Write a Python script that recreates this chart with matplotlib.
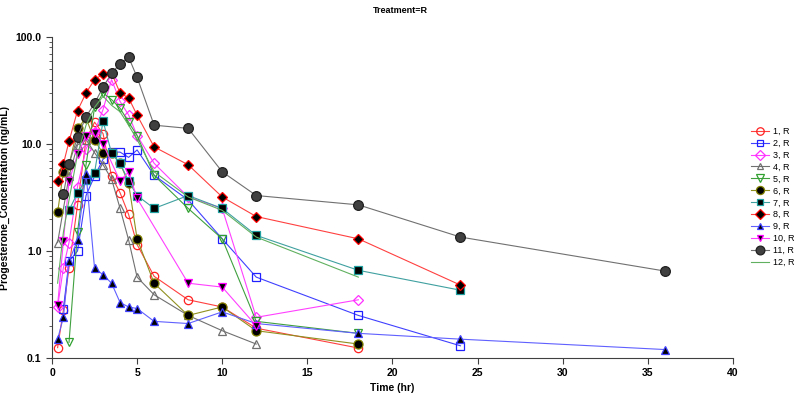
import matplotlib
matplotlib.use("Agg")
import matplotlib.pyplot as plt
from matplotlib.ticker import FixedLocator, FixedFormatter, LogLocator, NullFormatter

plt.rcParams['font.family'] = ['Liberation Sans', 'DejaVu Sans']

# concentration-time data per subject (time in hr, conc in ng/mL)
t1 = [0.33, 0.67, 1, 1.5, 2, 2.5, 3, 3.5, 4, 4.5, 5, 6, 8, 10, 12, 18]
c1 = [0.125, 0.28, 0.7, 2.7, 11, 16, 12.5, 5.0, 3.5, 2.2, 1.15, 0.58, 0.35, 0.3, 0.19, 0.124]

t2 = [0.67, 1, 1.5, 2, 2.5, 3, 3.5, 4, 4.5, 5, 6, 8, 10, 12, 18, 24]
c2 = [0.29, 0.8, 1.0, 3.3, 5.0, 7.2, 8.4, 8.4, 7.5, 8.8, 5.1, 3.0, 1.3, 0.57, 0.25, 0.13]

t3 = [0.33, 0.67, 1, 1.5, 2, 2.5, 3, 3.5, 4, 4.5, 5, 6, 8, 10, 12, 18]
c3 = [0.3, 0.7, 1.2, 4.0, 9.0, 13, 21, 40, 25, 18.7, 12, 6.6, 3.2, 2.5, 0.24, 0.35]

t4 = [0.33, 1, 1.5, 2, 2.5, 3, 3.5, 4, 4.5, 5, 6, 8, 10, 12]
c4 = [1.2, 5.0, 9.8, 11, 8.3, 6.4, 4.7, 2.5, 1.27, 0.57, 0.39, 0.25, 0.18, 0.135]

t5 = [1, 1.5, 2, 2.5, 3, 3.5, 4, 4.5, 5, 6, 8, 10, 12, 18]
c5 = [0.14, 1.5, 6.4, 22, 30, 26, 21.6, 16, 12, 5.1, 2.5, 1.3, 0.22, 0.17]

t6 = [0.33, 0.67, 1, 1.5, 2, 2.5, 3, 3.5, 4, 4.5, 5, 6, 8, 10, 12, 18]
c6 = [2.3, 5.5, 6.4, 14, 17.5, 10.8, 8.2, 8.2, 6.6, 4.3, 1.3, 0.5, 0.25, 0.3, 0.18, 0.135]

t7 = [1, 1.5, 2, 2.5, 3, 3.5, 4, 4.5, 5, 6, 8, 10, 12, 18, 24]
c7 = [2.4, 3.5, 4.6, 5.4, 16.4, 8.2, 6.6, 4.5, 3.3, 2.5, 3.3, 2.5, 1.4, 0.66, 0.43]

t8 = [0.33, 0.67, 1, 1.5, 2, 2.5, 3, 3.5, 4, 4.5, 5, 6, 8, 10, 12, 18, 24]
c8 = [4.5, 6.5, 10.6, 20.5, 30, 40, 45, 46, 30, 27, 18.6, 9.4, 6.4, 3.2, 2.1, 1.3, 0.48]

t9 = [0.33, 0.67, 1, 1.5, 2, 2.5, 3, 3.5, 4, 4.5, 5, 6, 8, 10, 12, 18, 24, 36]
c9 = [0.15, 0.24, 0.8, 1.27, 5.3, 0.69, 0.6, 0.5, 0.33, 0.3, 0.29, 0.22, 0.21, 0.27, 0.21, 0.17, 0.15, 0.12]

t10 = [0.33, 0.67, 1, 1.5, 2, 2.5, 3, 4, 4.5, 5, 8, 10, 12]
c10 = [0.31, 1.24, 4.5, 8.0, 12, 12.6, 10, 4.5, 5.5, 3.1, 0.5, 0.46, 0.2]

t11 = [0.67, 1, 1.5, 2, 2.5, 3, 3.5, 4, 4.5, 5, 6, 8, 10, 12, 18, 24, 36]
c11 = [3.4, 6.5, 11.6, 18, 24, 34, 46, 56, 65, 42, 15, 14, 5.5, 3.3, 2.7, 1.35, 0.65]

t12 = [0.33, 0.67, 1, 1.5, 2, 2.5, 3, 3.5, 4, 4.5, 5, 6, 8, 10, 12, 18]
c12 = [0.5, 1.5, 3.0, 8.0, 15, 22, 28, 23, 20, 15, 11, 5.5, 3.2, 2.4, 1.35, 0.57]

labels = ['1, R', '2, R', '3, R', '4, R', '5, R', '6, R',
          '7, R', '8, R', '9, R', '10, R', '11, R', '12, R']
times = [t1, t2, t3, t4, t5, t6, t7, t8, t9, t10, t11, t12]
concs = [c1, c2, c3, c4, c5, c6, c7, c8, c9, c10, c11, c12]

# line colour, marker, marker face, marker edge
styles = [
    ('#ff4040', 'o', 'none', '#ff2020'),
    ('#4040ff', 's', 'none', '#2020ff'),
    ('#ff40ff', 'D', 'none', '#ff30ff'),
    ('#707070', '^', 'none', '#707070'),
    ('#40a040', 'v', 'none', '#30a030'),
    ('#909020', 'o', 'black', '#808000'),
    ('#40a0a0', 's', 'black', '#20a0a0'),
    ('#ff4040', 'D', 'black', '#ff0000'),
    ('#6060ff', '^', 'black', '#4040ff'),
    ('#ff40ff', 'v', 'black', '#ff00ff'),
    ('#707070', 'o', '#404040', '#202020'),
    ('#60b060', 'None', 'none', '#60b060'),
]
sizes = [6, 5.5, 5.5, 5.5, 6, 6.5, 5.5, 5.5, 5.5, 5.5, 7, 0]

fig = plt.figure(figsize=(8.0, 3.98), dpi=100)
ax = fig.add_axes([0.065, 0.1005, 0.851, 0.8065])

for t, c, lab, st, ms in zip(times, concs, labels, styles, sizes):
    col, mk, mfc, mec = st
    ax.plot(t, c, color=col, lw=0.8, marker=mk, markersize=ms,
            markerfacecolor=mfc, markeredgecolor=mec, markeredgewidth=0.9,
            label=lab)

ax.set_yscale('log')
ax.set_ylim(0.1, 100)
ax.set_xlim(0, 40)
ax.xaxis.set_major_locator(FixedLocator(range(0, 41, 5)))
ax.yaxis.set_major_locator(FixedLocator([0.1, 1, 10, 100]))
ax.yaxis.set_major_formatter(FixedFormatter(['0.1', '1.0', '10.0', '100.0']))
ax.yaxis.set_minor_locator(LogLocator(base=10, subs=range(2, 10)))
ax.yaxis.set_minor_formatter(NullFormatter())

for s in ['top', 'right']:
    ax.spines[s].set_visible(False)
ax.spines['left'].set_color('#404040')
ax.spines['bottom'].set_color('#404040')
ax.tick_params(axis='both', which='major', length=4, width=0.8, labelsize=7.5, colors='#404040', labelcolor='black')
ax.tick_params(axis='y', which='minor', length=2.5, width=0.6, colors='#404040')
for lb in ax.get_xticklabels() + ax.get_yticklabels():
    lb.set_fontweight('bold')

ax.set_xlabel('Time (hr)', fontsize=7.5, fontweight='bold', labelpad=3)
ax.set_ylabel('Progesterone_Concentration (ng/mL)', fontsize=7.5, fontweight='bold', labelpad=4)
fig.text(0.5, 0.974, 'Treatment=R', ha='center', va='center', fontsize=6.5, fontweight='bold')

ax.legend(loc='upper left', bbox_to_anchor=(0.934, 0.69), bbox_transform=fig.transFigure,
          frameon=False, fontsize=6.5, handlelength=2.0, handletextpad=0.5,
          labelspacing=0.32, borderaxespad=0, markerscale=0.9)

fig.savefig('out.png', dpi=100)
